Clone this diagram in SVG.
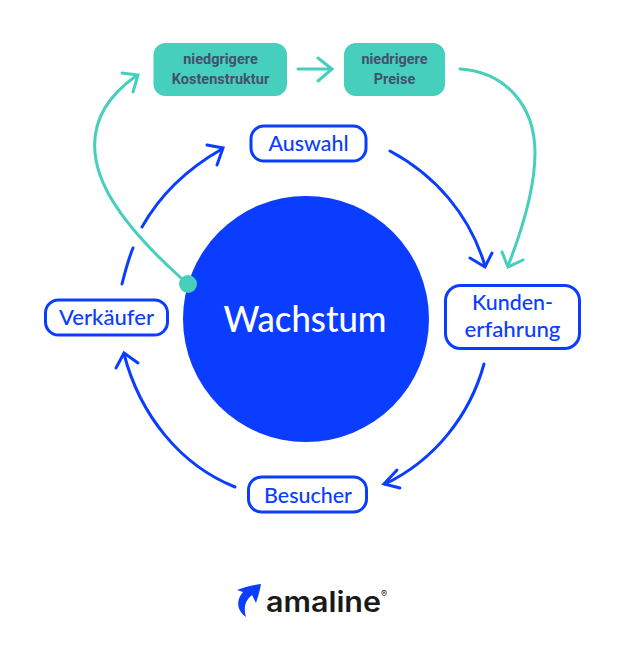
<svg xmlns="http://www.w3.org/2000/svg" width="624" height="660" viewBox="0 0 624 660">
<style>
.box{fill:#fff;stroke:#0a3dff;stroke-width:3}
.teal{fill:#45cfbc}
.b{fill:none;stroke:#0a3dff;stroke-width:3;stroke-linecap:round;stroke-linejoin:miter}
.t{fill:none;stroke:#45cfbc;stroke-width:3;stroke-linecap:round;stroke-linejoin:miter}
.lbl{font-family:Lato,"Liberation Sans",sans-serif;font-size:22px;fill:#0a3dff;text-anchor:middle;font-weight:500}
.tl{font-family:Roboto,"Liberation Sans",sans-serif;font-size:14.5px;font-weight:700;fill:#45506e;text-anchor:middle}
</style>
<rect width="624" height="660" fill="#fff"/>
<g id="connectors">
<path class="t" d="M181 278C150 250 112 210 100 175C88 140 95 105 136 76"/>
<path class="t" d="M122 73L138 75L133 92"/>
<path class="t" d="M298 69H331M318 58L332 69L318 81"/>
<path class="t" d="M460 69C505 72 535 105 535 153C535 190 522 230 508 266"/>
<path class="t" d="M502 252L508 267L523 260"/>
<path class="b" d="M390 151C435 175 470 215 485 266"/>
<path class="b" d="M470 258L485 267L492 253"/>
<path class="b" d="M142 227C160 195 185 170 222 149"/>
<path class="b" d="M207 145L223 148L217 165"/>
<path class="b" d="M133 248C128 260 125 272 122 284"/>
<path class="b" d="M484 364C470 415 435 460 385 484"/>
<path class="b" d="M397 470L384 484L400 488"/>
<path class="b" d="M235 487C180 465 140 415 124 354"/>
<path class="b" d="M116 368L124 353L138 363"/>
</g>
<g id="wachstum">
<circle cx="306" cy="319" r="123" fill="#0a3dff"/>
<text x="305" y="332" font-family="Lato,'Liberation Sans',sans-serif" font-size="36" font-weight="500" fill="#fff" text-anchor="middle" textLength="163" lengthAdjust="spacingAndGlyphs">Wachstum</text>
</g>
<g id="dot"><circle cx="188" cy="284" r="9" class="teal"/></g>
<g id="kostenstruktur">
<rect x="153.500" y="43" width="133.500" height="53" rx="12" class="teal"/>
<text x="220.500" y="64" class="tl">niedgrigere</text>
<text x="220.500" y="83.500" class="tl">Kostenstruktur</text>
</g>
<g id="preise">
<rect x="344" y="43" width="101" height="53" rx="12" class="teal"/>
<text x="394.500" y="64" class="tl">niedrigere</text>
<text x="394.500" y="83.500" class="tl">Preise</text>
</g>
<g id="auswahl">
<rect x="251" y="126" width="115" height="35" rx="13" class="box"/>
<text x="308.500" y="151" class="lbl" textLength="80" lengthAdjust="spacingAndGlyphs">Auswahl</text>
</g>
<g id="kunden">
<rect x="445.500" y="285.500" width="134" height="63" rx="15" class="box"/>
<text x="512.500" y="310" class="lbl" textLength="81" lengthAdjust="spacingAndGlyphs">Kunden-</text>
<text x="512.500" y="337" class="lbl" textLength="96" lengthAdjust="spacingAndGlyphs">erfahrung</text>
</g>
<g id="verkaeufer">
<rect x="45.500" y="300" width="122" height="35" rx="13" class="box"/>
<text x="106.500" y="325" class="lbl" textLength="95" lengthAdjust="spacingAndGlyphs">Verkäufer</text>
</g>
<g id="besucher">
<rect x="248.500" y="477" width="118" height="35" rx="13" class="box"/>
<text x="308" y="503" class="lbl" textLength="88" lengthAdjust="spacingAndGlyphs">Besucher</text>
</g>
<g id="logo">
<path d="M237 590C244 587 252 585 261 584C260 590 258 597 256 603L252 595C246 600 243 606 246 617C239 612 234 603 243 592Z" fill="#0a3dff"/>
<text x="266" y="612" font-family="Inter,'Liberation Sans',sans-serif" font-size="28" font-weight="600" fill="#1a1a1a" textLength="115" lengthAdjust="spacingAndGlyphs">amaline</text>
<text x="381" y="597" font-family="Inter,'Liberation Sans',sans-serif" font-size="9" fill="#1a1a1a">®</text>
</g>
</svg>
